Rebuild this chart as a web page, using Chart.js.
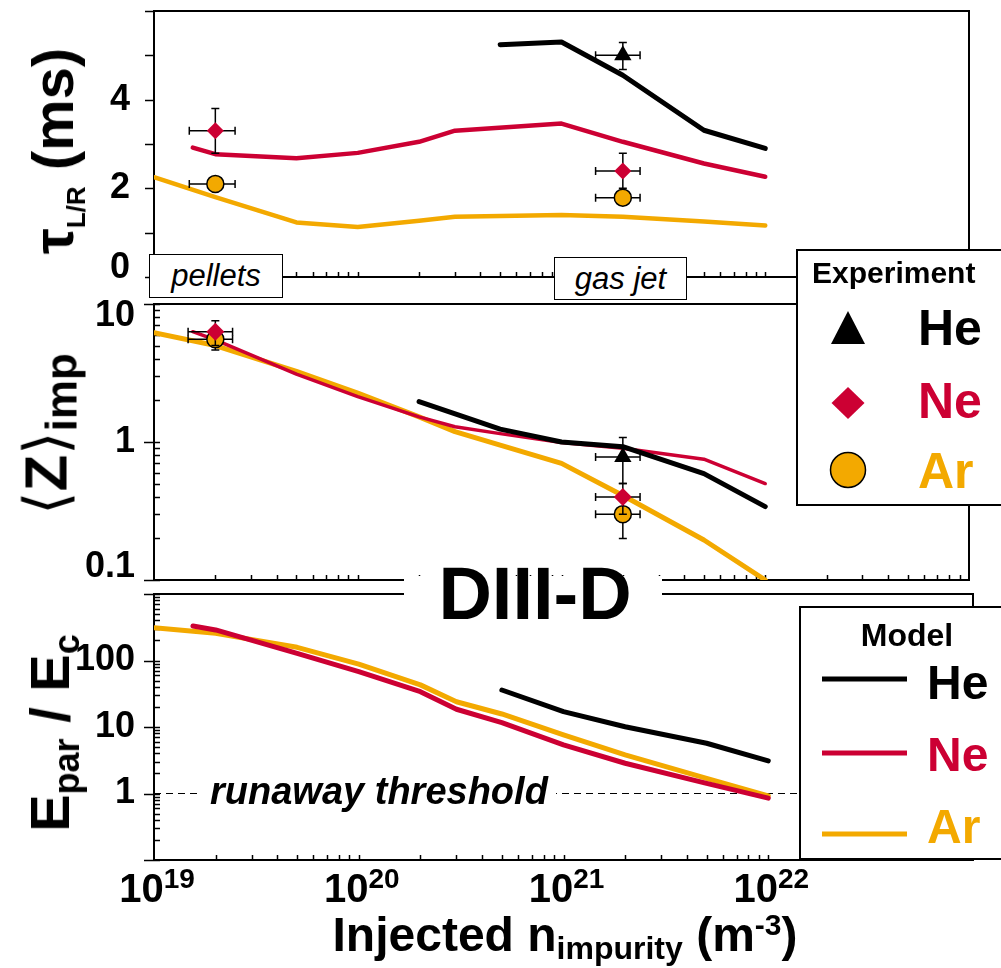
<!DOCTYPE html>
<html>
<head>
<meta charset="utf-8">
<title>DIII-D impurity injection</title>
<script src="https://cdn.jsdelivr.net/npm/chart.js@4.4.1/dist/chart.umd.min.js"></script>
<style>
  body { margin: 0; background: #fff; }
  #wrap { position: relative; width: 1001px; height: 968px; overflow: hidden;
          font-family: "Liberation Sans", Arial, Helvetica, sans-serif; color: #000; }
  canvas { position: absolute; left: 0; top: 0; }
  .t { position: absolute; white-space: nowrap; font-weight: bold; line-height: 1; }
  .mid { transform: translate(-50%, -50%); }
  .vmid { transform: translateY(-50%); }
  .rot { transform: translate(-50%, -50%) rotate(-90deg); }
  .sb { position: relative; }
  .box { position: absolute; background: #fff; border: 2px solid #000; box-sizing: border-box; }
  .tag { display: flex; align-items: center; justify-content: center; border-width: 1.5px;
         font-style: italic; font-size: 31px; }
</style>
</head>
<body>
<div id="wrap">
  <canvas id="tau" width="1001" height="968"></canvas>
  <canvas id="zimp" width="1001" height="968"></canvas>
  <canvas id="efield" width="1001" height="968"></canvas>

  <!-- y titles -->
  <div class="t rot" style="left:53px;top:151px;font-size:58px">τ<span class="sb" style="font-size:26px;top:12px">L/R</span> (ms)</div>
  <div class="t rot" style="left:46px;top:434px;font-size:60px"><span style="font-weight:normal;font-family:'DejaVu Sans'">⟨</span>Z<span style="font-weight:normal;font-family:'DejaVu Sans'">⟩</span><span class="sb" style="font-size:44px;top:10px">imp</span></div>
  <div class="t rot" style="left:50px;top:733px;font-size:56px">E<span class="sb" style="font-size:36px;top:10px">par</span> / E<span class="sb" style="font-size:36px;top:10px">c</span></div>

  <!-- x title -->
  <div class="t mid" style="left:565px;top:935px;font-size:48px">Injected n<span class="sb" style="font-size:32px;top:8px">impurity</span> (m<span class="sb" style="font-size:30px;top:-16px">-3</span>)</div>

  <!-- injection method tags -->
  <div class="box tag" style="left:149px;top:254px;width:134px;height:44px">pellets</div>
  <div class="box tag" style="left:554px;top:257px;width:133px;height:43px">gas jet</div>

  <!-- machine label -->
  <div style="position:absolute;left:404px;top:576px;width:258px;height:22px;background:#fff"></div>
  <div class="t mid" style="left:535px;top:594px;font-size:74px">DIII-D</div>

  <div class="t" style="left:202px;top:772px;font-size:38px;font-style:italic;background:#fff;padding:0 8px">runaway threshold</div>

  <!-- legends -->
  <div class="box" style="left:796px;top:249px;width:230px;height:257px"></div>
  <div class="box" style="left:799px;top:606px;width:230px;height:254px"></div>
  <svg width="1001" height="968" style="position:absolute;left:0;top:0">
    <polygon points="848,311 865,344 831,344" fill="#000"/>
    <polygon points="848,387 864.5,403 848,419 831.5,403" fill="#CC0033"/>
    <circle cx="848" cy="470" r="17.5" fill="#F3A900" stroke="#000" stroke-width="1.5"/>
    <line x1="822" x2="907" y1="679" y2="679" stroke="#000" stroke-width="5"/>
    <line x1="822" x2="907" y1="753" y2="753" stroke="#CC0033" stroke-width="5"/>
    <line x1="822" x2="907" y1="834" y2="834" stroke="#F3A900" stroke-width="5"/>
  </svg>
  <div class="t vmid" style="left:812px;top:273px;font-size:30px">Experiment</div>
  <div class="t vmid" style="left:918px;top:328px;font-size:50px">He</div>
  <div class="t vmid" style="left:918px;top:401px;font-size:50px;color:#CC0033">Ne</div>
  <div class="t vmid" style="left:918px;top:471px;font-size:50px;color:#F3A900">Ar</div>
  <div class="t mid" style="left:907px;top:635px;font-size:32px">Model</div>
  <div class="t vmid" style="left:927px;top:683px;font-size:48px">He</div>
  <div class="t vmid" style="left:927px;top:755px;font-size:48px;color:#CC0033">Ne</div>
  <div class="t vmid" style="left:927px;top:827px;font-size:48px;color:#F3A900">Ar</div>
</div>
<script>
const RED = '#CC0033';
const ORANGE = '#F3A900';
const FONT = '"Liberation Sans", Arial, sans-serif';

// shared x axis: injected impurity density (m^-3)
const xTicks = [1e19, 2e19, 3e19, 4e19, 5e19, 6e19, 7e19, 8e19, 9e19,
                1e20, 2e20, 3e20, 4e20, 5e20, 6e20, 7e20, 8e20, 9e20,
                1e21, 2e21, 3e21, 4e21, 5e21, 6e21, 7e21, 8e21, 9e21,
                1e22, 2e22, 3e22, 4e22, 5e22, 6e22, 7e22, 8e22, 9e22, 1e23];
const xLabelVals = [1e19, 1e20, 1e21, 1e22];
const xLabelExp = ['19', '20', '21', '22'];

// panel 1: current quench time tau_L/R (ms)
const tauHeX = [5e20, 1e21, 2e21, 5e21, 1e22];
const tauHeY = [5.24, 5.30, 4.55, 3.31, 2.90];
const tauNeX = [1.55e19, 2e19, 5e19, 1e20, 2e20, 3e20, 1e21, 2e21, 5e21, 1e22];
const tauNeY = [2.92, 2.77, 2.68, 2.80, 3.05, 3.30, 3.46, 3.05, 2.56, 2.26];
const tauArX = [1e19, 2e19, 5e19, 1e20, 2e20, 3e20, 1e21, 2e21, 5e21, 1e22];
const tauArY = [2.25, 1.80, 1.23, 1.13, 1.27, 1.36, 1.40, 1.36, 1.25, 1.16];
// experiment rows: [n, value, n low, n high, value low, value high]
const tauExpHe = [[2e21, 5.0, 1.47e21, 2.43e21, 4.68, 5.29]];
const tauExpNe = [[2e19, 3.30, 1.49e19, 2.5e19, 2.79, 3.80], [2e21, 2.39, 1.47e21, 2.43e21, 2.0, 2.79]];
const tauExpAr = [[2e19, 2.10, 1.49e19, 2.5e19, 2.10, 2.10], [2e21, 1.79, 1.47e21, 2.43e21, 1.79, 1.79]];
const tauTicks = [0, 1, 2, 3, 4, 5, 6];
const tauLabels = [0, 2, 4];

// panel 2: mean impurity charge <Z>_imp
const zHeX = [2e20, 5e20, 1e21, 2e21, 5e21, 1e22];
const zHeY = [1.96, 1.24, 1.0, 0.925, 0.59, 0.34];
const zNeX = [1.55e19, 2e19, 5e19, 1e20, 2e20, 3e20, 5e20, 1e21, 2e21, 5e21, 1e22];
const zNeY = [6.3, 5.5, 3.1, 2.13, 1.52, 1.29, 1.15, 0.99, 0.9, 0.75, 0.50];
const zArX = [1e19, 2e19, 5e19, 1e20, 2e20, 3e20, 5e20, 1e21, 2e21, 5e21, 1e22];
const zArY = [6.2, 5.0, 3.25, 2.26, 1.52, 1.19, 0.95, 0.70, 0.41, 0.195, 0.10];
const zExpHe = [[2e21, 0.78, 1.47e21, 2.43e21, 0.5, 1.08]];
const zExpNe = [[2e19, 6.3, 1.47e19, 2.43e19, 5.0, 7.57], [2e21, 0.40, 1.47e21, 2.43e21, 0.3, 0.5]];
const zExpAr = [[2e19, 5.55, 1.47e19, 2.43e19, 4.64, 6.3], [2e21, 0.30, 1.47e21, 2.43e21, 0.2, 0.4]];
const zTicks = [0.1, 0.2, 0.3, 0.4, 0.5, 0.6, 0.7, 0.8, 0.9, 1, 2, 3, 4, 5, 6, 7, 8, 9, 10];
const zMajor = [0.1, 1, 10];

// panel 3: E_par / E_c
const eHeX = [5e20, 1e21, 2e21, 5e21, 1e22];
const eHeY = [36, 17, 10.1, 5.7, 3.1];
const eNeX = [1.55e19, 2e19, 5e19, 1e20, 2e20, 3e20, 5e20, 1e21, 2e21, 5e21, 1e22];
const eNeY = [330, 288, 128, 68, 34, 18.5, 11.6, 5.4, 2.85, 1.42, 0.85];
const eArX = [1e19, 2e19, 5e19, 1e20, 2e20, 3e20, 5e20, 1e21, 2e21, 5e21, 1e22];
const eArY = [311, 256, 158, 88, 43, 24, 15.7, 7.6, 3.8, 1.69, 0.92];
const threshX = [1e19, 1e23];
const threshY = [1, 1];
const eTicks = [0.1, 0.2, 0.3, 0.4, 0.5, 0.6, 0.7, 0.8, 0.9,
                1, 2, 3, 4, 5, 6, 7, 8, 9,
                10, 20, 30, 40, 50, 60, 70, 80, 90,
                100, 200, 300, 400, 500, 600, 700, 800, 900, 1000];
const eMajor = [0.1, 1, 10, 100, 1000];

// box, tick marks and error bars
const frame = {
  id: 'frame',
  beforeDatasetsDraw(chart, args, o) {
    const { ctx, chartArea: a } = chart;
    const x = chart.scales.x, y = chart.scales.y;
    ctx.save();
    ctx.strokeStyle = '#000';
    ctx.lineWidth = 2;
    ctx.strokeRect(a.left, a.top, a.right - a.left, a.bottom - a.top);
    ctx.lineWidth = 1.5;
    ctx.beginPath();
    x.ticks.forEach(t => {
      const px = Math.round(x.getPixelForValue(t.value)) + 0.5;
      if (px <= a.left + 2 || px >= a.right - 2) return;
      ctx.moveTo(px, a.bottom);
      ctx.lineTo(px, a.bottom - o.xIn);
    });
    y.ticks.forEach(t => {
      const py = Math.round(y.getPixelForValue(t.value)) + 0.5;
      const out = t.major ? o.majorOut : o.minorOut;
      const inn = t.major ? o.majorIn : o.minorIn;
      ctx.moveTo(a.left - out, py);
      ctx.lineTo(a.left + inn, py);
    });
    ctx.stroke();
    ctx.restore();
  },
  beforeDatasetDraw(chart, args) {
    const ds = chart.data.datasets[args.index];
    if (!ds.err) return;
    const ctx = chart.ctx, x = chart.scales.x, y = chart.scales.y;
    ctx.save();
    ctx.strokeStyle = '#000';
    ctx.lineWidth = 1.5;
    ctx.beginPath();
    ds.err.forEach(r => {
      const cx = x.getPixelForValue(r[0]), cy = y.getPixelForValue(r[1]);
      const x0 = x.getPixelForValue(r[2]), x1 = x.getPixelForValue(r[3]);
      ctx.moveTo(x0, cy); ctx.lineTo(x1, cy);
      ctx.moveTo(x0, cy - 4); ctx.lineTo(x0, cy + 4);
      ctx.moveTo(x1, cy - 4); ctx.lineTo(x1, cy + 4);
      if (r[4] !== r[5]) {
        const y0 = y.getPixelForValue(r[4]), y1 = y.getPixelForValue(r[5]);
        ctx.moveTo(cx, y0); ctx.lineTo(cx, y1);
        ctx.moveTo(cx - 4, y0); ctx.lineTo(cx + 4, y0);
        ctx.moveTo(cx - 4, y1); ctx.lineTo(cx + 4, y1);
      }
    });
    ctx.stroke();
    ctx.restore();
  }
};

function model(xs, ys, color, width) {
  return {
    data: xs.map((v, i) => ({ x: v, y: ys[i] })),
    showLine: true, borderColor: color, borderWidth: width,
    borderCapStyle: 'round', borderJoinStyle: 'round',
    pointRadius: 0, pointHoverRadius: 0
  };
}

function expt(rows, style, color, r) {
  return {
    data: rows.map(p => ({ x: p[0], y: p[1] })),
    err: rows,
    showLine: false,
    pointStyle: style, pointRadius: r, pointHoverRadius: r,
    pointBackgroundColor: color, pointBorderColor: '#000',
    pointBorderWidth: style === 'circle' ? 1.5 : 0
  };
}

function xScale(bottom) {
  return {
    type: 'logarithmic', min: 1e19, max: 1e23,
    afterBuildTicks: s => { s.ticks = xTicks.map(v => ({ value: v })); },
    afterFit: s => { s.height = 968 - bottom; s.paddingLeft = 0; s.paddingRight = 0; },
    ticks: { display: false, autoSkip: false },
    grid: { display: false, drawTicks: false },
    border: { display: false }
  };
}

function yScale(extra, lineHeight, pad) {
  return Object.assign({
    // fixed axis width, and no label overflow pushing the plot area around
    afterFit: s => { s.width = 154; s.paddingTop = 0; s.paddingBottom = 0; },
    grid: { display: false, drawTicks: false },
    border: { display: false },
    ticks: {
      autoSkip: false, color: '#000', padding: pad,
      font: { family: FONT, size: 36, weight: 'bold', lineHeight: lineHeight },
      callback: extra.label
    }
  }, extra.scale);
}

function panel(id, top, bottom, right, datasets, y, marks) {
  return new Chart(document.getElementById(id), {
    type: 'scatter',
    data: { datasets: datasets },
    options: {
      responsive: false, animation: false, events: [],
      layout: { padding: { left: 0, top: top, right: 1001 - right, bottom: 0 } },
      plugins: { legend: { display: false }, tooltip: { enabled: false }, frame: marks },
      scales: { x: xScale(bottom), y: y }
    },
    plugins: [frame]
  });
}

const logMarks = { xIn: 5, majorOut: 10, majorIn: 6, minorOut: 0, minorIn: 6 };

panel('tau', 11, 277, 969, [
  expt(tauExpHe, 'triangle', '#000', 10),
  expt(tauExpNe, 'rectRot', RED, 8.5),
  expt(tauExpAr, 'circle', ORANGE, 8.5),
  model(tauHeX, tauHeY, '#000', 5),
  model(tauNeX, tauNeY, RED, 4.5),
  model(tauArX, tauArY, ORANGE, 4.5)
], yScale({
  scale: { type: 'linear', min: 0, max: 6,
           afterBuildTicks: s => { s.ticks = tauTicks.map(v => ({ value: v })); } },
  label: v => v === 0 ? ['0', ''] : (tauLabels.includes(v) ? String(v) : '')
}, '18px', 24), { xIn: 5, majorOut: 9, majorIn: 0, minorOut: 9, minorIn: 0 });

panel('zimp', 304, 580, 969, [
  expt(zExpHe, 'triangle', '#000', 10),
  expt(zExpNe, 'rectRot', RED, 9),
  expt(zExpAr, 'circle', ORANGE, 8.5),
  model(zHeX, zHeY, '#000', 5),
  model(zNeX, zNeY, RED, 3.5),
  model(zArX, zArY, ORANGE, 5)
], yScale({
  scale: { type: 'logarithmic', min: 0.1, max: 10,
           afterBuildTicks: s => { s.ticks = zTicks.map(v => ({ value: v, major: zMajor.includes(v) })); } },
  label: v => v === 10 ? ['', '10'] : v === 1 ? '1' : v === 0.1 ? ['0.1', ''] : ''
}, '25px', 19), logMarks);

const efieldChart = panel('efield', 594, 860, 973, [
  model(eHeX, eHeY, '#000', 5),
  model(eNeX, eNeY, RED, 5),
  model(eArX, eArY, ORANGE, 5),
  Object.assign(model(threshX, threshY, '#000', 1.2), { borderDash: [7, 5], borderCapStyle: 'butt' })
], yScale({
  scale: { type: 'logarithmic', min: 0.1, max: 1000,
           afterBuildTicks: s => { s.ticks = eTicks.map(v => ({ value: v, major: eMajor.includes(v) })); } },
  label: v => (v === 1 || v === 10 || v === 100) ? String(v) : ''
}, '36px', 19), logMarks);

// decade labels under the shared x axis
const wrap = document.getElementById('wrap');
const xs = efieldChart.scales.x;
xLabelVals.forEach((v, i) => {
  const d = document.createElement('div');
  d.className = 't mid';
  d.style.left = (xs.getPixelForValue(v) + 3) + 'px';
  d.style.top = '888px';
  d.style.fontSize = '40px';
  d.innerHTML = '10<span class="sb" style="font-size:28px;top:-14px">' + xLabelExp[i] + '</span>';
  wrap.appendChild(d);
});
</script>
</body>
</html>
